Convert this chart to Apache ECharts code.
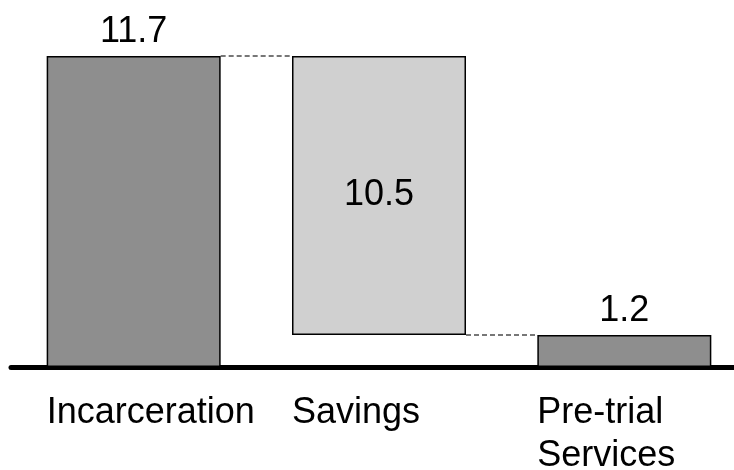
<!DOCTYPE html>
<html>
<head>
<meta charset="utf-8">
<script src="https://cdn.jsdelivr.net/npm/echarts@6/dist/echarts.min.js"></script>
<style>
  html, body { margin: 0; padding: 0; background: #fff; }
  #chart { width: 734px; height: 470px; }
</style>
</head>
<body>
<div id="chart"></div>
<script>
// waterfall: incarceration cost minus savings = pre-trial services
const categories = ['Incarceration', 'Savings', 'Pre-trial\nServices']
const baseValues = [0, 1.2, 0]
const barValues = [11.7, 10.5, 1.2]
const barColors = ['#8e8e8e', '#d0d0d0', '#8e8e8e']
const labelPositions = ['top', 'inside', 'top']
// dashed connectors: [from category index, level]
const connectors = [[0, 11.7], [1, 1.2]]

const BAR_WIDTH = 174
const font = '"Liberation Sans", Arial, sans-serif'

const chart = echarts.init(document.getElementById('chart'), null, { renderer: 'canvas' })

const option = {
  animation: false,
  grid: {
    left: 11, width: 736, top: 48, bottom: 103,
    containLabel: false,
    outerBoundsMode: 'none'
  },
  xAxis: {
    type: 'category',
    data: categories,
    axisTick: { show: false },
    axisLine: { lineStyle: { color: '#000', width: 5, cap: 'round' } },
    axisLabel: {
      margin: 25,
      align: 'center',
      hideOverlap: false,
      formatter: (v) => v.split('\n').map(s => '{a|' + s + '}').join('\n'),
      rich: {
        a: {
          width: BAR_WIDTH,
          align: 'left',
          fontSize: 36,
          lineHeight: 43,
          fontFamily: font,
          color: '#000'
        }
      }
    }
  },
  yAxis: {
    type: 'value',
    min: 0,
    max: 12,
    show: false
  },
  series: [
    {
      name: 'base',
      type: 'bar',
      stack: 'w',
      barWidth: BAR_WIDTH,
      itemStyle: { color: 'transparent' },
      emphasis: { disabled: true },
      data: baseValues
    },
    {
      name: 'value',
      type: 'bar',
      stack: 'w',
      barWidth: BAR_WIDTH,
      z: 3,
      data: barValues.map((v, i) => ({
        value: v,
        itemStyle: { color: barColors[i], borderColor: '#000', borderWidth: 1.5 },
        label: {
          show: true,
          position: labelPositions[i],
          distance: 6,
          fontSize: 36,
          fontFamily: font,
          color: '#000'
        }
      }))
    },
    {
      name: 'connector',
      type: 'custom',
      z: 1,
      encode: { x: 0, y: 1 },
      data: connectors,
      renderItem: (params, api) => {
        const from = api.value(0)
        const level = api.value(1)
        const p1 = api.coord([from, level])
        const p2 = api.coord([from + 1, level])
        return {
          type: 'line',
          shape: { x1: p1[0] + BAR_WIDTH / 2, y1: p1[1], x2: p2[0] - BAR_WIDTH / 2, y2: p2[1] },
          style: { stroke: '#777777', lineWidth: 2, lineDash: [5, 3] }
        }
      }
    }
  ]
}

chart.setOption(option)
</script>
</body>
</html>
